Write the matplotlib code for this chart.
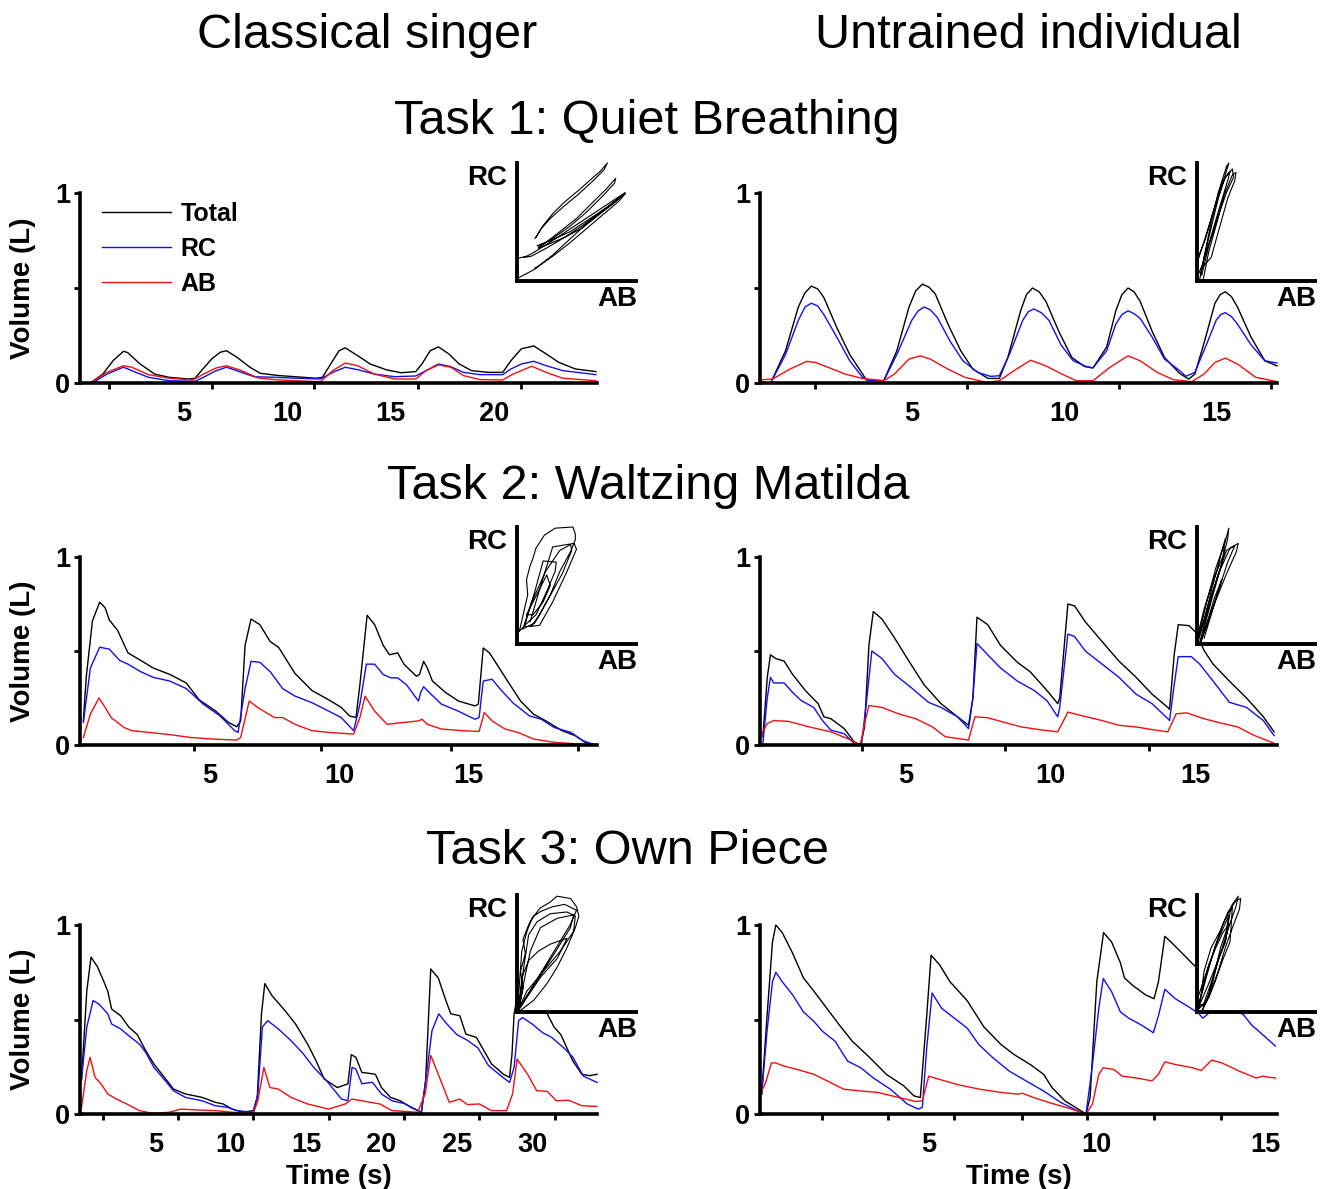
import numpy as np
import matplotlib
matplotlib.use('Agg')
import matplotlib.pyplot as plt
from matplotlib import font_manager

nan = np.nan

# ---------------- Task 1: quiet breathing, classical singer ----------------
t1s_tot_t = [0.5, 1.1, 1.6, 2.1, 2.3, 2.9, 3.6, 4.3, 5.25, 5.55, 5.86, 6.36, 6.77, 7.07, 7.58, 8.2, 8.7, 9.6, 10.4, 11.4, 11.7, 12.2, 12.5, 12.8, 13.4, 14.0, 14.8, 15.5, 16.2, 16.5, 16.9, 17.3, 17.8, 18.3, 18.9, 19.7, 20.4, 20.8, 21.3, 21.9, 22.5, 23.1, 23.9, 24.9]
t1s_tot_v = [0.0, 0.047, 0.118, 0.167, 0.16, 0.10, 0.047, 0.03, 0.021, 0.025, 0.065, 0.127, 0.162, 0.17, 0.135, 0.083, 0.051, 0.039, 0.033, 0.025, 0.03, 0.118, 0.17, 0.185, 0.144, 0.10, 0.069, 0.054, 0.06, 0.10, 0.17, 0.19, 0.153, 0.10, 0.065, 0.056, 0.056, 0.118, 0.18, 0.195, 0.153, 0.109, 0.074, 0.06]
t1s_rc_t = [0.6, 1.3, 2.1, 2.5, 3.3, 4.3, 5.55, 5.96, 6.57, 7.07, 7.8, 8.4, 9.4, 10.4, 11.6, 12.2, 12.8, 13.4, 14.2, 15.2, 16.2, 16.7, 17.3, 17.9, 18.5, 19.3, 20.4, 20.8, 21.3, 21.9, 22.5, 23.3, 24.9]
t1s_rc_v = [0.0, 0.047, 0.083, 0.065, 0.03, 0.012, 0.009, 0.03, 0.065, 0.083, 0.056, 0.033, 0.03, 0.025, 0.021, 0.056, 0.083, 0.07, 0.047, 0.033, 0.037, 0.065, 0.10, 0.086, 0.056, 0.044, 0.044, 0.074, 0.1, 0.114, 0.091, 0.065, 0.044]
t1s_ab_t = [0.5, 1.3, 2.1, 2.5, 3.3, 4.3, 5.45, 5.96, 6.57, 7.07, 7.8, 8.6, 9.6, 10.4, 11.6, 12.2, 12.8, 13.4, 14.2, 15.2, 16.2, 16.7, 17.3, 17.9, 18.5, 19.3, 20.4, 20.9, 21.8, 22.5, 23.3, 24.9]
t1s_ab_v = [0.0, 0.056, 0.091, 0.083, 0.044, 0.025, 0.016, 0.047, 0.079, 0.091, 0.065, 0.026, 0.016, 0.012, 0.007, 0.065, 0.105, 0.091, 0.047, 0.021, 0.021, 0.065, 0.095, 0.083, 0.039, 0.018, 0.016, 0.047, 0.088, 0.056, 0.025, 0.012]

# ---------------- Task 1: quiet breathing, untrained ----------------
t1u_tot_t = [0.35, 0.84, 1.26, 1.48, 1.69, 1.9, 2.1, 2.53, 2.95, 3.3, 3.5, 4.07, 4.5, 4.9, 5.12, 5.34, 5.55, 5.76, 6.18, 6.6, 7.0, 7.5, 7.87, 8.15, 8.57, 8.76, 8.96, 9.18, 9.4, 9.83, 10.25, 10.67, 10.95, 11.4, 11.7, 11.9, 12.1, 12.3, 12.5, 12.9, 13.3, 13.8, 14.1, 14.3, 14.6, 14.96, 15.13, 15.3, 15.5, 15.7, 16.15, 16.6, 17.0]
t1u_tot_v = [0.0, 0.17, 0.40, 0.475, 0.51, 0.495, 0.45, 0.29, 0.15, 0.065, 0.016, 0.012, 0.17, 0.40, 0.485, 0.52, 0.505, 0.47, 0.31, 0.17, 0.073, 0.024, 0.024, 0.135, 0.38, 0.465, 0.50, 0.48, 0.43, 0.27, 0.135, 0.087, 0.079, 0.19, 0.38, 0.465, 0.50, 0.48, 0.43, 0.27, 0.135, 0.05, 0.021, 0.047, 0.21, 0.42, 0.465, 0.48, 0.455, 0.40, 0.24, 0.117, 0.09]
t1u_rc_t = [0.35, 0.84, 1.26, 1.48, 1.69, 1.9, 2.1, 2.53, 2.95, 3.37, 3.6, 4.07, 4.5, 4.99, 5.2, 5.4, 5.6, 5.83, 6.25, 6.67, 7.16, 7.58, 7.87, 8.2, 8.64, 8.82, 9.0, 9.25, 9.5, 9.9, 10.3, 10.74, 10.95, 11.4, 11.7, 11.9, 12.1, 12.3, 12.5, 12.9, 13.3, 13.8, 14.0, 14.3, 14.7, 15.0, 15.15, 15.3, 15.5, 15.7, 16.15, 16.6, 17.0]
t1u_rc_v = [0.0, 0.15, 0.33, 0.40, 0.42, 0.405, 0.36, 0.24, 0.117, 0.03, 0.012, 0.012, 0.15, 0.33, 0.38, 0.40, 0.385, 0.345, 0.22, 0.117, 0.056, 0.035, 0.038, 0.15, 0.33, 0.375, 0.39, 0.37, 0.33, 0.20, 0.117, 0.086, 0.08, 0.17, 0.31, 0.36, 0.38, 0.365, 0.34, 0.24, 0.126, 0.065, 0.035, 0.056, 0.21, 0.33, 0.36, 0.37, 0.35, 0.31, 0.2, 0.117, 0.105]
t1u_ab_t = [0.0, 0.42, 0.98, 1.54, 1.83, 2.25, 2.8, 3.37, 4.07, 4.42, 4.9, 5.27, 5.6, 6.18, 6.74, 7.44, 7.87, 8.43, 8.9, 9.4, 9.97, 10.4, 10.95, 11.5, 12.1, 12.5, 13.06, 13.6, 14.2, 14.6, 14.96, 15.3, 15.7, 16.3, 17.0]
t1u_ab_v = [0.016, 0.021, 0.073, 0.114, 0.108, 0.082, 0.047, 0.024, 0.012, 0.047, 0.126, 0.143, 0.126, 0.073, 0.03, 0.003, 0.012, 0.073, 0.12, 0.09, 0.044, 0.012, 0.012, 0.082, 0.143, 0.117, 0.056, 0.017, 0.007, 0.047, 0.108, 0.131, 0.1, 0.03, 0.007]

# ---------------- Task 2: Waltzing Matilda, classical singer ----------------
t2s_tot_t = [0.13, 0.24, 0.48, 0.76, 0.97, 1.13, 1.45, 1.85, 2.34, 2.82, 3.47, 4.1, 4.6, 5.24, 5.73, 6.05, 6.2, 6.37, 6.6, 6.94, 7.34, 7.66, 8.3, 8.95, 9.6, 10.08, 10.4, 10.65, 10.8, 11.08, 11.37, 11.7, 11.94, 12.26, 12.5, 12.98, 13.1, 13.26, 13.4, 13.6, 14.1, 14.6, 15.24, 15.37, 15.56, 15.8, 16.05, 16.5, 17.0, 17.5, 17.98, 18.6, 19.1, 19.6, 19.9]
t2s_tot_v = [0.13, 0.36, 0.66, 0.76, 0.73, 0.665, 0.61, 0.49, 0.45, 0.41, 0.375, 0.33, 0.24, 0.18, 0.12, 0.097, 0.128, 0.53, 0.67, 0.64, 0.55, 0.52, 0.38, 0.29, 0.24, 0.2, 0.155, 0.146, 0.32, 0.69, 0.64, 0.53, 0.48, 0.49, 0.43, 0.366, 0.375, 0.445, 0.41, 0.34, 0.28, 0.234, 0.208, 0.217, 0.516, 0.49, 0.437, 0.34, 0.234, 0.164, 0.128, 0.076, 0.05, 0.005, 0.0]
t2s_rc_t = [0.13, 0.4, 0.76, 1.13, 1.53, 1.85, 2.34, 2.82, 3.47, 4.1, 4.76, 5.4, 5.97, 6.1, 6.37, 6.6, 6.94, 7.34, 7.82, 8.3, 8.95, 9.6, 10.08, 10.56, 10.8, 11.05, 11.37, 11.7, 12.0, 12.26, 12.6, 13.06, 13.15, 13.26, 13.47, 13.95, 14.6, 15.24, 15.4, 15.56, 15.9, 16.2, 16.7, 17.34, 17.8, 18.3, 18.95, 19.4, 19.9]
t2s_rc_v = [0.12, 0.41, 0.52, 0.51, 0.45, 0.43, 0.39, 0.36, 0.34, 0.30, 0.217, 0.155, 0.076, 0.067, 0.30, 0.445, 0.44, 0.39, 0.30, 0.26, 0.225, 0.18, 0.146, 0.076, 0.217, 0.43, 0.43, 0.375, 0.357, 0.357, 0.32, 0.234, 0.28, 0.31, 0.28, 0.217, 0.18, 0.137, 0.146, 0.34, 0.35, 0.30, 0.225, 0.155, 0.137, 0.093, 0.067, 0.023, 0.0]
t2s_ab_t = [0.13, 0.4, 0.73, 0.97, 1.2, 1.7, 2.0, 2.66, 3.47, 4.27, 5.08, 6.05, 6.2, 6.53, 6.85, 7.18, 7.5, 7.82, 8.3, 8.95, 9.6, 10.56, 10.8, 11.0, 11.37, 11.85, 12.5, 13.06, 13.2, 13.4, 13.95, 14.76, 15.4, 15.6, 15.9, 16.4, 16.9, 17.5, 18.3, 19.9]
t2s_ab_v = [0.04, 0.164, 0.25, 0.2, 0.146, 0.093, 0.076, 0.067, 0.055, 0.04, 0.032, 0.026, 0.04, 0.234, 0.2, 0.173, 0.146, 0.146, 0.11, 0.076, 0.067, 0.058, 0.146, 0.26, 0.18, 0.11, 0.12, 0.128, 0.137, 0.11, 0.085, 0.076, 0.072, 0.173, 0.128, 0.085, 0.067, 0.032, 0.014, 0.0]

# ---------------- Task 2: Waltzing Matilda, untrained ----------------
t2u_tot_t = [0.1, 0.25, 0.36, 0.54, 0.83, 1.12, 1.56, 2.0, 2.2, 2.44, 2.9, 3.24, 3.46, 3.6, 3.75, 3.9, 4.2, 4.63, 5.07, 5.65, 6.23, 6.8, 7.18, 7.33, 7.47, 7.84, 8.28, 8.86, 9.3, 9.88, 10.25, 10.32, 10.6, 10.83, 11.2, 11.78, 12.36, 12.95, 13.5, 14.04, 14.1, 14.26, 14.4, 14.77, 15.0, 15.3, 15.6, 16.16, 16.75, 17.33, 17.7]
t2u_tot_v = [0.044, 0.36, 0.48, 0.46, 0.446, 0.376, 0.29, 0.22, 0.15, 0.14, 0.087, 0.017, 0.0, 0.096, 0.53, 0.71, 0.67, 0.57, 0.46, 0.32, 0.22, 0.15, 0.105, 0.25, 0.68, 0.64, 0.53, 0.44, 0.39, 0.29, 0.22, 0.25, 0.75, 0.74, 0.655, 0.55, 0.446, 0.36, 0.27, 0.2, 0.19, 0.48, 0.64, 0.635, 0.6, 0.5, 0.43, 0.34, 0.25, 0.15, 0.07]
t2u_rc_t = [0.1, 0.25, 0.36, 0.47, 0.83, 1.12, 1.42, 1.85, 2.15, 2.44, 2.9, 3.3, 3.5, 3.68, 3.85, 4.2, 4.63, 5.2, 5.8, 6.23, 6.8, 7.18, 7.33, 7.47, 7.84, 8.28, 8.86, 9.44, 9.88, 10.25, 10.32, 10.6, 10.83, 11.2, 11.78, 12.36, 12.95, 13.5, 14.04, 14.1, 14.26, 14.4, 14.85, 15.14, 15.6, 16.16, 16.75, 17.33, 17.7]
t2u_rc_v = [0.01, 0.25, 0.36, 0.33, 0.33, 0.28, 0.236, 0.2, 0.13, 0.079, 0.06, 0.0, 0.01, 0.25, 0.50, 0.46, 0.376, 0.306, 0.227, 0.2, 0.15, 0.087, 0.25, 0.54, 0.48, 0.41, 0.34, 0.29, 0.236, 0.15, 0.2, 0.59, 0.577, 0.5, 0.43, 0.36, 0.27, 0.22, 0.14, 0.13, 0.32, 0.47, 0.47, 0.43, 0.34, 0.227, 0.2, 0.13, 0.05]
t2u_ab_t = [0.0, 0.25, 0.47, 0.98, 1.7, 2.44, 3.0, 3.46, 3.6, 3.75, 4.2, 4.77, 5.36, 5.94, 6.38, 6.8, 7.18, 7.4, 7.84, 8.42, 9.0, 9.74, 10.25, 10.4, 10.6, 11.05, 11.78, 12.36, 12.95, 13.5, 14.04, 14.33, 14.7, 15.28, 15.86, 16.45, 17.0, 17.7]
t2u_ab_v = [0.044, 0.114, 0.13, 0.126, 0.096, 0.07, 0.035, 0.0, 0.114, 0.21, 0.2, 0.166, 0.14, 0.096, 0.044, 0.035, 0.026, 0.15, 0.145, 0.12, 0.096, 0.079, 0.07, 0.114, 0.175, 0.157, 0.13, 0.105, 0.096, 0.082, 0.07, 0.166, 0.171, 0.14, 0.117, 0.096, 0.052, 0.009]

# ---------------- Task 3: own piece, classical singer ----------------
t3s_tot_t = [0.1, 0.45, 0.73, 1.15, 1.56, 1.84, 2.1, 2.7, 3.24, 3.8, 4.36, 4.9, 5.6, 6.2, 7.0, 8.1, 8.97, 9.5, 10.1, 10.8, 11.5, 11.76, 12.04, 12.26, 12.74, 13.6, 14.3, 15.1, 15.67, 16.2, 17.07, 17.77, 18.0, 18.3, 18.7, 19.2, 19.6, 20.0, 20.6, 21.25, 21.95, 22.65, 22.93, 23.27, 23.77, 24.2, 24.6, 25.2, 25.6, 26.3, 26.8, 27.3, 28.1, 28.5, 28.66, 28.8, 29.3, 30.0, 31.0, 31.45, 31.9, 32.3, 32.7, 33.3, 33.8, 34.3]
t3s_tot_v = [0.18, 0.65, 0.83, 0.78, 0.705, 0.65, 0.555, 0.52, 0.46, 0.42, 0.335, 0.265, 0.194, 0.132, 0.106, 0.088, 0.062, 0.053, 0.026, 0.009, 0.018, 0.088, 0.53, 0.69, 0.626, 0.547, 0.476, 0.37, 0.28, 0.185, 0.14, 0.159, 0.314, 0.30, 0.22, 0.215, 0.21, 0.14, 0.088, 0.07, 0.035, 0.009, 0.176, 0.767, 0.72, 0.617, 0.53, 0.52, 0.423, 0.405, 0.335, 0.265, 0.21, 0.194, 0.317, 0.53, 0.75, 0.68, 0.53, 0.46, 0.42, 0.35, 0.28, 0.21, 0.203, 0.21]
t3s_rc_t = [0.1, 0.45, 0.87, 1.28, 1.84, 2.1, 2.7, 3.24, 3.94, 4.36, 4.9, 5.47, 6.2, 7.0, 8.1, 8.97, 9.8, 10.4, 11.5, 11.8, 12.1, 12.45, 13.16, 14.0, 14.83, 15.5, 16.36, 17.35, 17.77, 18.05, 18.3, 18.7, 19.4, 20.0, 20.7, 21.5, 22.65, 22.99, 23.35, 23.8, 24.3, 25.0, 25.7, 26.4, 27.1, 27.96, 28.5, 28.8, 29.1, 29.36, 30.0, 30.7, 31.3, 32.1, 32.7, 33.4, 34.3]
t3s_rc_v = [0.185, 0.46, 0.6, 0.58, 0.53, 0.476, 0.45, 0.414, 0.37, 0.326, 0.247, 0.194, 0.123, 0.088, 0.07, 0.044, 0.035, 0.018, 0.009, 0.106, 0.46, 0.494, 0.45, 0.388, 0.317, 0.247, 0.176, 0.079, 0.07, 0.247, 0.238, 0.16, 0.168, 0.106, 0.07, 0.056, 0.009, 0.21, 0.44, 0.53, 0.48, 0.42, 0.39, 0.35, 0.256, 0.2, 0.167, 0.247, 0.494, 0.51, 0.476, 0.43, 0.405, 0.35, 0.3, 0.2, 0.167]
t3s_ab_t = [0.1, 0.45, 0.67, 1.0, 1.4, 1.84, 2.4, 3.1, 3.94, 4.8, 5.9, 6.7, 7.85, 8.97, 10.1, 11.5, 11.8, 12.2, 12.6, 13.16, 14.0, 15.1, 16.5, 17.6, 18.05, 18.7, 19.9, 20.7, 22.4, 22.9, 23.27, 23.77, 24.5, 25.2, 25.7, 26.5, 27.3, 28.3, 28.7, 29.0, 29.7, 30.3, 31.0, 31.6, 32.4, 33.3, 34.3]
t3s_ab_v = [0.035, 0.23, 0.30, 0.194, 0.159, 0.106, 0.08, 0.053, 0.018, 0.004, 0.009, 0.026, 0.021, 0.018, 0.009, 0.004, 0.07, 0.247, 0.14, 0.132, 0.088, 0.053, 0.026, 0.053, 0.079, 0.07, 0.053, 0.018, 0.009, 0.106, 0.31, 0.21, 0.062, 0.079, 0.05, 0.053, 0.018, 0.018, 0.106, 0.29, 0.21, 0.123, 0.12, 0.07, 0.073, 0.044, 0.04]

# ---------------- Task 3: own piece, untrained ----------------
t3u_tot_t = [0.05, 0.21, 0.37, 0.47, 0.66, 0.97, 1.29, 1.6, 1.98, 2.36, 2.74, 3.25, 3.75, 4.26, 4.57, 4.76, 4.95, 5.08, 5.33, 5.64, 6.15, 6.65, 7.16, 7.54, 8.04, 8.42, 8.67, 9.05, 9.68, 9.8, 10.0, 10.2, 10.44, 10.7, 10.82, 11.07, 11.45, 11.7, 11.83, 12.02, 12.2, 12.5, 12.84, 13.0]
t3u_tot_v = [0.105, 0.52, 0.91, 1.0, 0.96, 0.85, 0.72, 0.65, 0.56, 0.47, 0.385, 0.3, 0.21, 0.15, 0.096, 0.087, 0.52, 0.84, 0.79, 0.70, 0.6, 0.46, 0.367, 0.315, 0.26, 0.21, 0.14, 0.07, 0.0, 0.087, 0.7, 0.96, 0.91, 0.80, 0.72, 0.68, 0.63, 0.61, 0.70, 0.94, 0.91, 0.857, 0.795, 0.77]
t3u_rc_t = [0.05, 0.21, 0.37, 0.47, 0.66, 0.97, 1.29, 1.6, 1.86, 2.23, 2.6, 2.99, 3.37, 3.88, 4.38, 4.7, 4.82, 4.95, 5.11, 5.39, 5.77, 6.15, 6.5, 6.9, 7.4, 7.9, 8.42, 8.93, 9.43, 9.68, 9.87, 10.06, 10.19, 10.44, 10.7, 10.95, 11.33, 11.68, 11.83, 12.02, 12.33, 12.7, 13.02, 13.15, 13.5, 14.0, 14.36, 14.6, 14.86, 15.3]
t3u_rc_v = [0.105, 0.44, 0.70, 0.75, 0.70, 0.63, 0.54, 0.49, 0.437, 0.385, 0.28, 0.245, 0.19, 0.13, 0.052, 0.026, 0.035, 0.35, 0.64, 0.56, 0.507, 0.455, 0.367, 0.3, 0.227, 0.175, 0.122, 0.061, 0.017, 0.0, 0.26, 0.56, 0.717, 0.647, 0.54, 0.507, 0.47, 0.43, 0.52, 0.66, 0.61, 0.57, 0.533, 0.507, 0.56, 0.56, 0.524, 0.47, 0.43, 0.36]
t3u_ab_t = [0.0, 0.15, 0.34, 0.47, 0.72, 1.1, 1.6, 2.1, 2.49, 2.99, 3.5, 4.13, 4.63, 4.82, 5.01, 5.39, 5.9, 6.53, 7.16, 7.66, 7.79, 8.17, 8.67, 9.18, 9.68, 9.87, 10.06, 10.19, 10.5, 10.76, 11.2, 11.64, 11.83, 12.02, 12.33, 12.84, 13.1, 13.41, 13.72, 14.23, 14.73, 14.92, 15.3]
t3u_ab_v = [0.105, 0.157, 0.27, 0.27, 0.253, 0.236, 0.21, 0.166, 0.131, 0.122, 0.114, 0.087, 0.066, 0.07, 0.2, 0.18, 0.154, 0.131, 0.114, 0.105, 0.11, 0.084, 0.056, 0.03, 0.0, 0.052, 0.21, 0.245, 0.236, 0.2, 0.19, 0.175, 0.21, 0.276, 0.262, 0.245, 0.23, 0.285, 0.27, 0.227, 0.19, 0.2, 0.19]

# ---------------- RC vs AB insets (normalised, loops split by nan) ----------------
ins1_ab = [0.0, 0.15, 0.30, 0.45, 0.60, 0.75, 0.88, 0.91, 0.86, 0.72, 0.58, 0.44, 0.30, 0.17, 0.15, nan,
           0.0, 0.08, 0.12, 0.25, 0.40, 0.55, 0.70, 0.85, 0.91, 0.86, 0.70, 0.55, 0.40, 0.25, 0.12, 0.06, nan,
           0.18, 0.22, 0.35, 0.50, 0.62, 0.75, 0.83, 0.82, 0.72, 0.58, 0.44, 0.30, 0.20, nan,
           0.15, 0.17, 0.22, 0.30, 0.40, 0.52, 0.62, 0.70, 0.76, 0.73, 0.63, 0.51, 0.39, 0.28, 0.20, 0.16, nan,
           0.17, 0.30, 0.45, 0.60, 0.75, 0.88, 0.85, 0.70, 0.55, 0.40, 0.26, 0.18]
ins1_rc = [0.02, 0.10, 0.22, 0.36, 0.50, 0.62, 0.72, 0.74, 0.68, 0.56, 0.44, 0.32, 0.21, 0.12, 0.11, nan,
           0.19, 0.21, 0.23, 0.31, 0.41, 0.51, 0.61, 0.71, 0.75, 0.70, 0.58, 0.47, 0.37, 0.28, 0.21, 0.20, nan,
           0.29, 0.31, 0.41, 0.53, 0.65, 0.78, 0.87, 0.83, 0.72, 0.58, 0.46, 0.36, 0.30, nan,
           0.36, 0.39, 0.47, 0.57, 0.67, 0.77, 0.86, 0.93, 1.0, 0.94, 0.84, 0.73, 0.63, 0.53, 0.44, 0.37, nan,
           0.30, 0.35, 0.42, 0.52, 0.62, 0.72, 0.69, 0.57, 0.45, 0.37, 0.31, 0.28]

ins2_ab = [0.02, 0.06, 0.12, 0.18, 0.25, 0.27, 0.24, 0.18, 0.12, 0.06, 0.03, nan,
           0.0, 0.08, 0.16, 0.24, 0.30, 0.31, 0.25, 0.18, 0.10, 0.04, nan,
           0.05, 0.10, 0.17, 0.23, 0.30, 0.33, 0.32, 0.26, 0.19, 0.12, 0.03, nan,
           0.01, 0.07, 0.14, 0.22, 0.28, 0.26, 0.19, 0.12, 0.05, 0.01]
ins2_rc = [0.0, 0.2, 0.5, 0.75, 0.97, 1.0, 0.9, 0.7, 0.45, 0.2, 0.05, nan,
           0.15, 0.4, 0.65, 0.88, 0.95, 0.88, 0.75, 0.55, 0.3, 0.05, nan,
           0.0, 0.25, 0.5, 0.73, 0.9, 0.92, 0.85, 0.7, 0.45, 0.2, 0.1, nan,
           0.2, 0.35, 0.6, 0.85, 0.93, 0.85, 0.62, 0.38, 0.15, 0.05]

ins3_ab = [0.02, 0.09, 0.08, 0.11, 0.13, 0.16, 0.23, 0.32, 0.47, 0.49, 0.49, 0.45, 0.36, 0.28, 0.19, 0.12, 0.06, 0.02, nan,
           0.065, 0.15, 0.22, 0.33, 0.32, 0.25, 0.16, 0.065, nan,
           0.11, 0.2, 0.30, 0.48, 0.50, 0.42, 0.30, 0.19, 0.11, nan,
           0.08, 0.25, 0.28, 0.22, 0.135, 0.08, nan,
           0.05, 0.12, 0.24, 0.36, 0.45, 0.46, 0.38, 0.26, 0.15, 0.05]
ins3_rc = [0.11, 0.42, 0.55, 0.67, 0.72, 0.82, 0.93, 0.99, 1.0, 0.94, 0.89, 0.79, 0.62, 0.42, 0.25, 0.15, 0.15, 0.11, nan,
           0.16, 0.45, 0.71, 0.70, 0.62, 0.45, 0.25, 0.16, nan,
           0.19, 0.5, 0.83, 0.86, 0.81, 0.62, 0.36, 0.16, 0.15, nan,
           0.25, 0.59, 0.50, 0.36, 0.25, 0.25, nan,
           0.13, 0.35, 0.62, 0.80, 0.85, 0.8, 0.6, 0.38, 0.18, 0.13]

ins4_ab = [0.0, 0.08, 0.16, 0.24, 0.27, 0.26, 0.20, 0.13, 0.05, nan,
           0.01, 0.10, 0.19, 0.28, 0.35, 0.33, 0.25, 0.15, 0.05, nan,
           0.02, 0.12, 0.18, 0.25, 0.32, 0.26, 0.18, 0.1, 0.03, nan,
           0.0, 0.06, 0.14, 0.22, 0.24, 0.2, 0.12, 0.06, 0.0, nan,
           0.03, 0.09, 0.15, 0.21, 0.18, 0.12, 0.06]
ins4_rc = [0.0, 0.35, 0.65, 0.88, 0.99, 0.9, 0.65, 0.4, 0.1, nan,
           0.02, 0.35, 0.62, 0.82, 0.86, 0.78, 0.6, 0.35, 0.08, nan,
           0.0, 0.4, 0.6, 0.8, 0.84, 0.7, 0.45, 0.2, 0.02, nan,
           0.05, 0.3, 0.55, 0.75, 0.9, 0.75, 0.45, 0.2, 0.05, nan,
           0.0, 0.2, 0.4, 0.55, 0.45, 0.25, 0.05]

ins5_ab = [0.006, 0.02, 0.04, 0.084, 0.126, 0.196, 0.28, 0.336, 0.45, 0.50, 0.52, 0.49, 0.42, 0.336, 0.25, 0.14, 0.03, nan,
           0.014, 0.056, 0.098, 0.168, 0.28, 0.42, 0.49, 0.476, 0.364, 0.224, 0.084, 0.014, nan,
           0.014, 0.07, 0.112, 0.196, 0.336, 0.476, 0.448, 0.308, 0.168, 0.042, nan,
           0.014, 0.042, 0.098, 0.18, 0.28, 0.42, 0.34, 0.2, 0.08, 0.014, nan,
           0.02, 0.05, 0.03, 0.07, 0.05, 0.1, 0.14, 0.2, 0.3, 0.4, 0.5, 0.45, 0.3, 0.15, 0.03]
ins5_rc = [0.014, 0.24, 0.52, 0.69, 0.80, 0.89, 0.94, 0.99, 0.97, 0.90, 0.82, 0.72, 0.55, 0.38, 0.24, 0.10, 0.014, nan,
           0.028, 0.38, 0.66, 0.77, 0.84, 0.855, 0.82, 0.69, 0.52, 0.35, 0.18, 0.028, nan,
           0.014, 0.32, 0.52, 0.72, 0.80, 0.83, 0.72, 0.49, 0.27, 0.07, nan,
           0.014, 0.30, 0.44, 0.52, 0.58, 0.63, 0.46, 0.3, 0.12, 0.014, nan,
           0.05, 0.2, 0.35, 0.5, 0.62, 0.75, 0.82, 0.86, 0.9, 0.92, 0.87, 0.75, 0.5, 0.25, 0.05]

ins6_ab = [0.0, 0.08, 0.15, 0.22, 0.30, 0.35, 0.33, 0.26, 0.2, 0.12, 0.05, nan,
           0.02, 0.06, 0.12, 0.2, 0.26, 0.33, 0.37, 0.36, 0.3, 0.24, 0.18, 0.1, 0.02, nan,
           0.01, 0.1, 0.17, 0.25, 0.27, 0.25, 0.2, 0.14, 0.08, 0.01, nan,
           0.04, 0.12, 0.18, 0.24, 0.28, 0.30, 0.28, 0.22, 0.15, 0.04, nan,
           0.0, 0.05, 0.1, 0.16, 0.22, 0.27, 0.24, 0.17, 0.09, 0.03]
ins6_rc = [0.0, 0.3, 0.55, 0.75, 0.92, 0.99, 0.9, 0.7, 0.5, 0.25, 0.05, nan,
           0.03, 0.35, 0.55, 0.7, 0.85, 0.95, 0.97, 0.88, 0.72, 0.55, 0.35, 0.12, 0.03, nan,
           0.05, 0.4, 0.6, 0.78, 0.83, 0.7, 0.55, 0.3, 0.08, 0.05, nan,
           0.0, 0.2, 0.45, 0.6, 0.85, 0.9, 0.6, 0.45, 0.25, 0.0, nan,
           0.1, 0.25, 0.4, 0.55, 0.68, 0.75, 0.6, 0.42, 0.22, 0.08]


# ---------------- fonts ----------------
have_narrow = any(f.name == 'Liberation Sans Narrow' for f in font_manager.fontManager.ttflist)
if have_narrow:
    bold_family = ['Liberation Sans Narrow', 'Liberation Sans']
    fs_tick, fs_lab, fs_leg, fs_ins = 22, 23, 21, 22
else:
    bold_family = ['Liberation Sans']
    fs_tick, fs_lab, fs_leg, fs_ins = 19.5, 20, 18, 20
fs_title = 35

W, H = 1328, 1189
fig = plt.figure(figsize=(W / 100, H / 100), dpi=100)


def px_rect(x0, x1, ytop, ybot):
    return [x0 / W, 1 - ybot / H, (x1 - x0) / W, (ybot - ytop) / H]


def panel(rect, traces, xmax, label_ticks, mark_ticks, ylabel=False, xlabel=False):
    ax = fig.add_axes(px_rect(*rect))
    for (t, v, c) in traces:
        ax.plot(t, v, color=c, lw=1.0, clip_on=False)
    ax.set_xlim(0, xmax)
    ax.set_ylim(0, 1)
    for s in ['top', 'right']:
        ax.spines[s].set_visible(False)
    for s in ['left', 'bottom']:
        ax.spines[s].set_linewidth(2.6)
    ax.set_yticks([0, 0.5, 1])
    ax.set_yticklabels(['0', '', '1'], fontfamily=bold_family, fontweight='bold', fontsize=fs_tick)
    ax.tick_params(axis='y', direction='out', length=4, width=2, pad=3)
    ax.set_xticks(label_ticks)
    ax.set_xticklabels([str(x) for x in label_ticks], fontfamily=bold_family, fontweight='bold', fontsize=fs_tick)
    ax.tick_params(axis='x', which='major', length=0, pad=13)
    ax.set_xticks(mark_ticks, minor=True)
    ax.tick_params(axis='x', which='minor', direction='out', length=4, width=2)
    if ylabel:
        ax.set_ylabel('Volume (L)', fontfamily=bold_family, fontweight='bold', fontsize=fs_lab)
        ax.yaxis.set_label_coords(-0.085, 0.5)
    if xlabel:
        ax.set_xlabel('Time (s)', fontfamily=bold_family, fontweight='bold', fontsize=fs_lab)
        ax.xaxis.set_label_coords(0.5, -0.265)
    return ax


def inset(rect, ab, rc):
    ax = fig.add_axes(px_rect(*rect))
    ax.set_facecolor('white')
    ax.plot(ab, rc, color='black', lw=0.8, clip_on=False)
    ax.set_xlim(0, 1)
    ax.set_ylim(0, 1)
    for s in ['top', 'right']:
        ax.spines[s].set_visible(False)
    for s in ['left', 'bottom']:
        ax.spines[s].set_linewidth(2.8)
    ax.set_xticks([])
    ax.set_yticks([])
    ax.text(-0.25, 0.87, 'RC', transform=ax.transAxes, ha='center', va='center',
            fontfamily=bold_family, fontweight='bold', fontsize=fs_ins)
    ax.text(0.84, -0.155, 'AB', transform=ax.transAxes, ha='center', va='center',
            fontfamily=bold_family, fontweight='bold', fontsize=fs_ins)
    return ax


blk, blu, red = 'black', '#1010f0', '#f01010'

# Task 1
ax1 = panel((80, 597, 193, 383),
            [(t1s_tot_t, t1s_tot_v, blk), (t1s_rc_t, t1s_rc_v, blu), (t1s_ab_t, t1s_ab_v, red)],
            24.95, [5, 10, 15, 20], [1.38, 6.38, 11.3, 16.3, 21.3], ylabel=True)
ax1.plot([], [], color=blk, lw=1.0, label='Total')
ax1.plot([], [], color=blu, lw=1.0, label='RC')
ax1.plot([], [], color=red, lw=1.0, label='AB')
h, l = ax1.get_legend_handles_labels()
ax1.legend(h[-3:], l[-3:], loc='upper left', bbox_to_anchor=(0.018, 1.02), frameon=False,
           handlelength=2.75, handletextpad=0.4, labelspacing=0.45, borderpad=0,
           prop={'family': bold_family, 'weight': 'bold', 'size': fs_leg})
panel((760, 1277, 193, 383),
      [(t1u_tot_t, t1u_tot_v, blk), (t1u_rc_t, t1u_rc_v, blu), (t1u_ab_t, t1u_ab_v, red)],
      17.0, [5, 10, 15], [1.8, 6.8, 11.8, 16.8])

# Task 2
panel((80, 597, 557, 745),
      [(t2s_tot_t, t2s_tot_v, blk), (t2s_rc_t, t2s_rc_v, blu), (t2s_ab_t, t2s_ab_v, red)],
      19.95, [5, 10, 15], [4.4, 9.3, 14.3, 19.2], ylabel=True)
panel((760, 1277, 557, 745),
      [(t2u_tot_t, t2u_tot_v, blk), (t2u_rc_t, t2u_rc_v, blu), (t2u_ab_t, t2u_ab_v, red)],
      17.8, [5, 10, 15], [3.5, 8.45, 13.4])

# Task 3
panel((80, 597, 925, 1114),
      [(t3s_tot_t, t3s_tot_v, blk), (t3s_rc_t, t3s_rc_v, blu), (t3s_ab_t, t3s_ab_v, red)],
      34.3, [5, 10, 15, 20, 25, 30], [1.5, 6.5, 11.5, 16.5, 21.5, 26.5, 31.5], ylabel=True, xlabel=True)
panel((760, 1277, 925, 1114),
      [(t3u_tot_t, t3u_tot_v, blk), (t3u_rc_t, t3u_rc_v, blu), (t3u_ab_t, t3u_ab_v, red)],
      15.35, [5, 10, 15], [1.85, 3.8, 5.77, 7.77, 9.72, 11.7, 13.7], xlabel=True)

# insets
inset((517, 636, 163, 281), ins1_ab, ins1_rc)
inset((1197, 1315, 163, 281), ins2_ab, ins2_rc)
inset((517, 636, 527, 644), ins3_ab, ins3_rc)
inset((1197, 1315, 527, 644), ins4_ab, ins4_rc)
inset((517, 636, 895, 1012), ins5_ab, ins5_rc)
inset((1197, 1315, 895, 1012), ins6_ab, ins6_rc)

# headings
for (x, y, s) in [(367, 48, 'Classical singer'), (1028, 48, 'Untrained individual'),
                  (647, 134, 'Task 1: Quiet Breathing'), (648, 499, 'Task 2: Waltzing Matilda'),
                  (628, 864, 'Task 3: Own Piece')]:
    fig.text(x / W, 1 - y / H, s, ha='center', va='baseline', fontsize=fs_title, family='Liberation Sans')

fig.savefig('out.png', dpi=100, facecolor='white')
